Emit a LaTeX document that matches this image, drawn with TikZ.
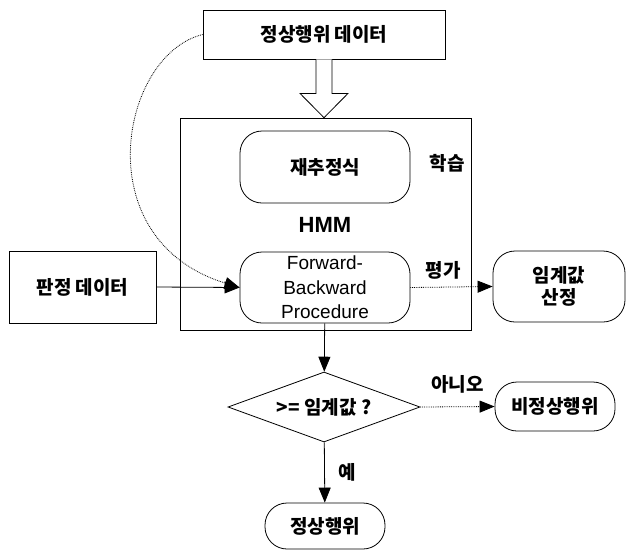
\documentclass[tikz,border=0pt]{standalone}
\usepackage{fontspec}
\setmainfont{Liberation Sans}
\newfontfamily\kr{Noto Sans CJK KR}
\usetikzlibrary{shapes.geometric,arrows.meta,calc}
\begin{document}
\begin{tikzpicture}[x=1pt,y=-1pt,
    databox/.style={draw,line width=0.8pt,inner sep=0pt,font=\kr\bfseries\fontsize{19}{22}\selectfont},
    roundbox/.style={databox,rounded corners=22pt},
    decision/.style={draw,line width=0.8pt,shape=diamond,aspect=2.74,inner sep=0pt,
      minimum width=192,minimum height=70,font=\kr\bfseries\fontsize{19}{22}\selectfont},
    tag/.style={inner sep=0pt,font=\kr\bfseries\fontsize{19}{22}\selectfont},
    arr/.style={line width=0.8pt,-{Triangle[length=15pt,width=12pt]}}]
  \useasboundingbox (0,0) rectangle (635,550);
  \node[databox,minimum width=242,minimum height=49] (normdata) at (324,34.5) {정상행위 데이터};
  \node[draw,line width=0.6pt,minimum width=291,minimum height=212] (hmm) at (326,224) {};
  \node[inner sep=0pt,font=\bfseries\fontsize{22}{24}\selectfont] (hmmlabel) at (325,225) {HMM};
  \node[roundbox,minimum width=170,minimum height=72] (reest) at (325,167) {재추정식};
  \node[roundbox,minimum width=170,minimum height=71,align=center,
    font=\fontsize{19}{24.5}\selectfont] (fb) at (325,287.5) {Forward-\\Backward\\Procedure};
  \node[tag] (learn) at (447,163) {학습};
  \node[tag] (eval) at (443,270) {평가};
  \node[databox,minimum width=147,minimum height=72] (judgedata) at (82.5,287) {판정 데이터};
  \node[roundbox,minimum width=132,minimum height=71,align=center] (threshold) at (559,286.5) {임계값\\산정};
  \node[decision] (check) at (324,407) {>= 임계값 ?};
  \node[roundbox,minimum width=120,minimum height=49] (abnormal) at (555,406.5) {비정상행위};
  \node[roundbox,minimum width=120,minimum height=46] (normal) at (325,526) {정상행위};
  \draw[line width=0.8pt,fill=white] ($(normdata.south)+(-8,0)$) -- ++(0,34) -- ++(-16,0)
    -- (normdata.south |- hmm.north) -- ($(normdata.south)+(24,34)$) -- ++(-16,0)
    -- ($(normdata.south)+(8,0)$);
  \draw[arr] (judgedata.east) -- (fb.west);
  \draw[arr,densely dotted] (normdata.west) .. controls (120,55) and (85,240) .. (fb.west);
  \draw[arr,densely dotted] (fb.east) -- (threshold.west);
  \draw[arr] (fb) -- (check);
  \draw[arr,densely dotted] (check.east) -- node[tag,above=13pt] (no) {아니오} (abnormal.west);
  \draw[arr] (check) -- node[tag,right=14pt] (yes) {예} (normal);
\end{tikzpicture}
\end{document}
